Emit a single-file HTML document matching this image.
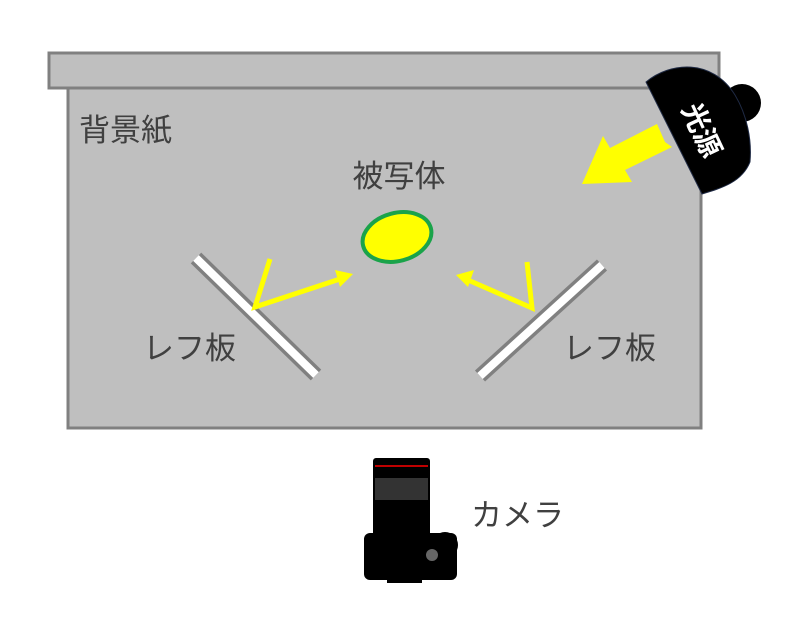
<!DOCTYPE html>
<html><head><meta charset="utf-8"><style>
body{margin:0;background:#fff;width:800px;height:615px;overflow:hidden}
text{font-family:"Liberation Sans","Noto Sans CJK JP",sans-serif;fill:#404040}
</style></head><body>
<svg width="800" height="615" viewBox="0 0 800 615">
<rect x="49" y="53" width="670" height="35" fill="#bfbfbf" stroke="#808080" stroke-width="3"/>
<rect x="68" y="88" width="633" height="340" fill="#bfbfbf" stroke="#808080" stroke-width="3"/>
<text x="79" y="141" font-size="31">背景紙</text>
<text x="399" y="187" font-size="31" text-anchor="middle">被写体</text>
<text x="143" y="359" font-size="31">レフ板</text>
<text x="563" y="359" font-size="31">レフ板</text>
<text x="471" y="526" font-size="31">カメラ</text>
<ellipse cx="397" cy="237" rx="35" ry="24" transform="rotate(-15 397 237)" fill="#ffff00" stroke="#1aa34a" stroke-width="4"/>
<line x1="196" y1="258" x2="316" y2="375" stroke="#808080" stroke-width="15"/>
<line x1="196" y1="258" x2="316" y2="375" stroke="#fff" stroke-width="8"/>
<line x1="602" y1="265" x2="480" y2="376" stroke="#808080" stroke-width="15"/>
<line x1="602" y1="265" x2="480" y2="376" stroke="#fff" stroke-width="8"/>
<polyline points="270,259 255,307 340,279" fill="none" stroke="#ffff00" stroke-width="5"/>
<polygon points="353,274 335,270 340,287" fill="#ffff00"/>
<polyline points="527,262 532,308 468,280" fill="none" stroke="#ffff00" stroke-width="5"/>
<polygon points="456,275 474,270 468,287" fill="#ffff00"/>
<polygon points="665,142 657,124 610,148 603,136 582,184 632,182 625,170 672,147" fill="#ffff00"/>
<circle cx="742" cy="103" r="19" fill="#000"/>
<path d="M646,82 C670,62 712,58 735,95 C747,115 752,140 750,162 C742,182 722,188 702,194 Z" fill="#000" stroke="#1f2a44" stroke-width="1"/>
<text x="702" y="140" font-size="28" font-weight="bold" text-anchor="middle" style="fill:#fff" transform="rotate(65 702 130)">光源</text>
<rect x="373" y="458" width="57" height="80" rx="3" fill="#000"/>
<rect x="375" y="465" width="53" height="2" fill="#c00000"/>
<rect x="375" y="478" width="53" height="22" fill="#333"/>
<rect x="364" y="533" width="93" height="47" rx="6" fill="#000"/>
<circle cx="445" cy="545" r="13" fill="#000"/>
<rect x="387" y="575" width="35" height="8" fill="#000"/>
<circle cx="432" cy="555" r="6" fill="#666"/>
</svg>
</body></html>
